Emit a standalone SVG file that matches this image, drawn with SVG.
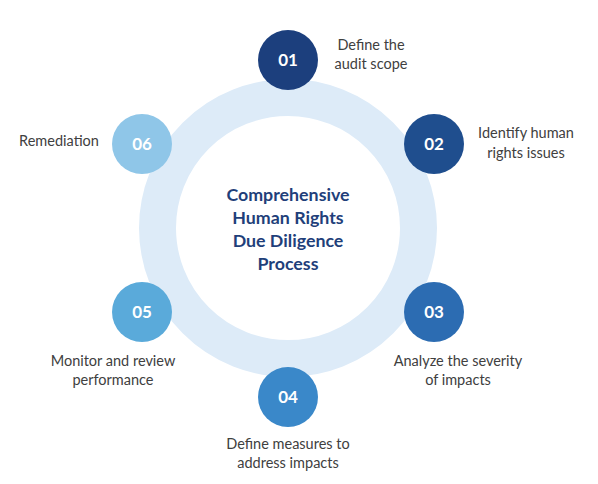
<svg xmlns="http://www.w3.org/2000/svg" width="598" height="484" viewBox="0 0 598 484">
<style>
.lbl{font-family:Lato,"Open Sans","Liberation Sans",sans-serif;font-size:14.5px;fill:#404040;text-anchor:middle}
.num{font-family:Lato,"Open Sans","Liberation Sans",sans-serif;font-size:17px;font-weight:bold;fill:#ffffff;text-anchor:middle}
.ctr{font-family:Lato,"Open Sans","Liberation Sans",sans-serif;font-size:17.8px;font-weight:bold;fill:#1F3F7A;text-anchor:middle}
</style>
<rect width="598" height="484" fill="#ffffff"/>
<g id="ring">
<circle cx="288" cy="228" r="130.5" fill="none" stroke="#DDEBF8" stroke-width="37"/>
</g>
<g id="center">
<text class="ctr" x="288" y="201">Comprehensive</text>
<text class="ctr" x="288" y="224">Human Rights</text>
<text class="ctr" x="288" y="247">Due Diligence</text>
<text class="ctr" x="288" y="270">Process</text>
</g>
<g id="connectors"></g>
<g id="step01">
<circle cx="288" cy="60" r="30" fill="#1C3F7D"/>
<text class="num" x="288" y="66">01</text>
<text class="lbl" x="371" y="50">Define the</text>
<text class="lbl" x="371" y="69">audit scope</text>
</g>
<g id="step02">
<circle cx="434" cy="144" r="30" fill="#1F4E8E"/>
<text class="num" x="434" y="150">02</text>
<text class="lbl" x="526" y="138">Identify human</text>
<text class="lbl" x="526" y="158">rights issues</text>
</g>
<g id="step03">
<circle cx="434" cy="312" r="30" fill="#2C6CB2"/>
<text class="num" x="434" y="318">03</text>
<text class="lbl" x="458" y="366">Analyze the severity</text>
<text class="lbl" x="458" y="385">of impacts</text>
</g>
<g id="step04">
<circle cx="288" cy="397" r="30" fill="#3A88C9"/>
<text class="num" x="288" y="403">04</text>
<text class="lbl" x="288" y="449">Define measures to</text>
<text class="lbl" x="288" y="468">address impacts</text>
</g>
<g id="step05">
<circle cx="142" cy="312" r="30" fill="#5AAADA"/>
<text class="num" x="142" y="318">05</text>
<text class="lbl" x="113" y="366">Monitor and review</text>
<text class="lbl" x="113" y="385">performance</text>
</g>
<g id="step06">
<circle cx="142" cy="144" r="30" fill="#8FC6E8"/>
<text class="num" x="142" y="150">06</text>
<text class="lbl" x="59" y="146">Remediation</text>
</g>
</svg>
